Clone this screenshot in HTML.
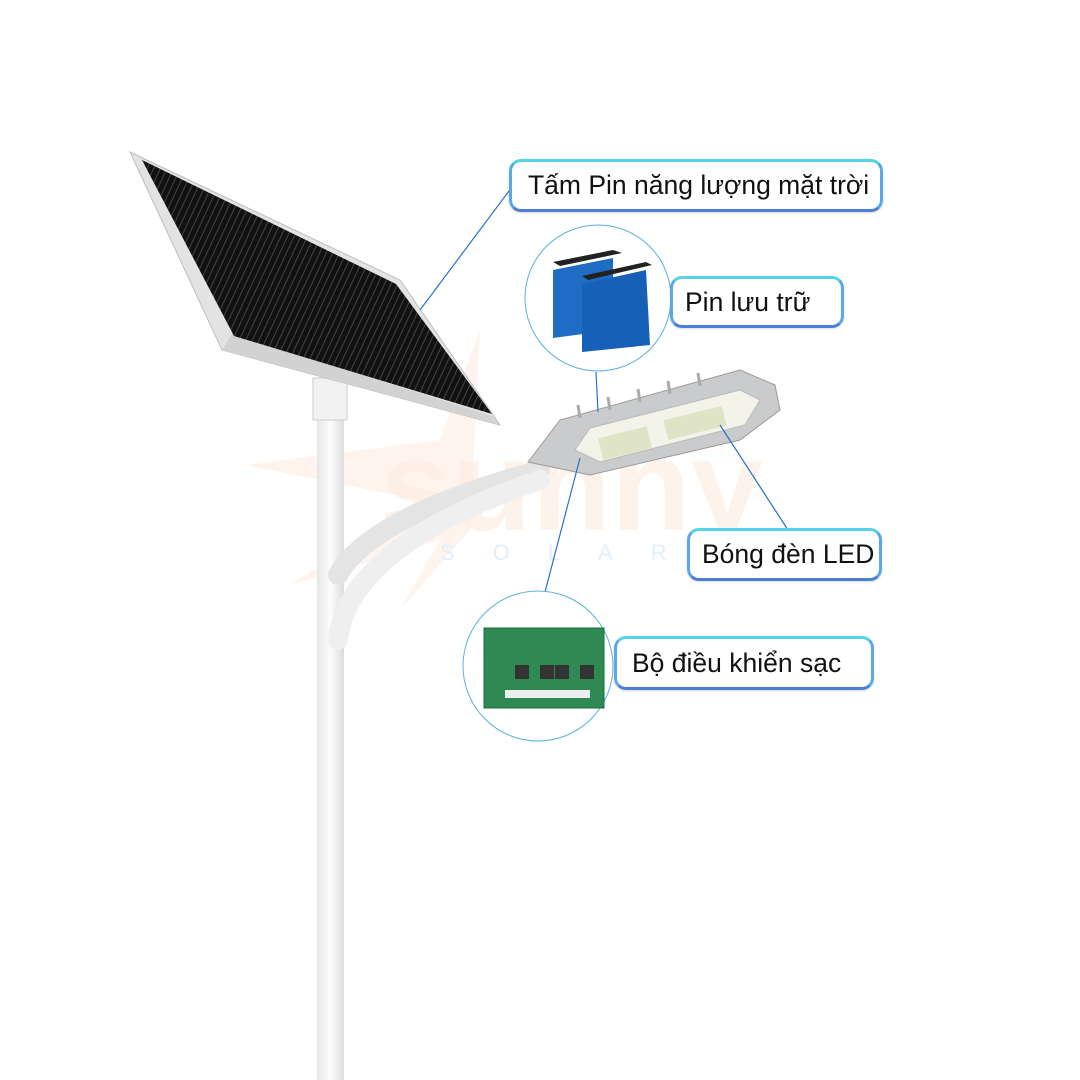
<!DOCTYPE html>
<html><head><meta charset="utf-8"><style>
html,body{margin:0;padding:0;background:#fff;}
body{width:1080px;height:1080px;position:relative;overflow:hidden;font-family:"Liberation Sans",sans-serif;}
.lbl{position:absolute;box-sizing:border-box;border:3px solid #5aa8e6;border-top-color:#55d3e6;border-bottom-color:#4a7fd8;border-radius:12px;background:#fff;font-size:26.5px;color:#111;line-height:1;display:flex;align-items:center;padding-left:16px;box-shadow:0 1px 2px rgba(0,0,0,.15);white-space:nowrap;}
</style></head><body>
<svg width="1080" height="1080" style="position:absolute;left:0;top:0">
<defs>
<linearGradient id="pole" x1="0" x2="1"><stop offset="0" stop-color="#e6e6e6"/><stop offset=".5" stop-color="#fdfdfd"/><stop offset="1" stop-color="#dcdcdc"/></linearGradient>
<pattern id="cells" width="6" height="6" patternUnits="userSpaceOnUse" patternTransform="rotate(25)"><rect width="6" height="6" fill="#111"/><rect width="1" height="6" fill="#444"/></pattern>
</defs>
<!-- watermark -->
<polygon points="480,330 440,440 245,465 420,500 290,585 440,540 400,610 470,530" fill="#fdeadb" opacity=".5"/>
<text x="380" y="530" font-family="Liberation Sans" font-size="130" font-weight="bold" fill="#fdeee2" opacity=".7">sunny</text>
<text x="440" y="560" font-family="Liberation Sans" font-size="22" fill="#e0f0fa" letter-spacing="38">SOLAR</text>
<!-- pole -->
<rect x="317" y="380" width="27" height="700" fill="url(#pole)"/>
<rect x="313" y="378" width="34" height="42" fill="#f2f2f2" stroke="#ccc"/>
<!-- arms -->
<path d="M338,575 C360,535 430,500 540,470" stroke="#e4e4e4" stroke-width="20" fill="none" stroke-linecap="round"/>
<path d="M338,640 C345,575 420,520 540,480" stroke="#efefef" stroke-width="20" fill="none" stroke-linecap="round"/>
<!-- lamp head -->
<path d="M528,462 L560,420 L740,370 L775,385 L780,410 L740,440 L590,475 Z" fill="#c9cbcc" stroke="#9a9a9a"/>
<g stroke="#aaa" stroke-width="3"><line x1="580" y1="418" x2="578" y2="405"/><line x1="610" y1="410" x2="608" y2="397"/><line x1="640" y1="402" x2="638" y2="389"/><line x1="670" y1="394" x2="668" y2="381"/><line x1="700" y1="386" x2="698" y2="373"/></g>
<path d="M575,450 L590,428 L740,390 L760,400 L745,425 L600,462 Z" fill="#f3f3ea" stroke="#bbb"/>
<g fill="#dfe4c6"><rect x="600" y="432" width="50" height="22" transform="rotate(-14 625 443)"/><rect x="665" y="413" width="60" height="20" transform="rotate(-14 695 423)"/></g>
<!-- panel -->
<polygon points="130,152 400,280 500,425 222,350" fill="#e3e3e3" stroke="#bdbdbd"/>
<polygon points="232,334 492,416 500,425 222,350" fill="#d2d2d2"/>
<polygon points="142,160 396,284 492,414 234,336" fill="url(#cells)"/>
<!-- connectors -->
<g stroke="#2b6fcf" stroke-width="1.2" fill="none">
<line x1="420" y1="310" x2="512" y2="187"/>
<line x1="596" y1="372" x2="598" y2="412"/>
<line x1="720" y1="425" x2="788" y2="530"/>
<line x1="580" y1="458" x2="545" y2="592"/>
</g>
<!-- circles -->
<circle cx="598" cy="298" r="73" fill="#fff" stroke="#5ab0e0" stroke-width="1"/>
<circle cx="538" cy="666" r="75" fill="#fff" stroke="#5ab0e0" stroke-width="1"/>
<!-- batteries -->
<polygon points="553,270 613,258 613,330 553,338" fill="#1f6cc4"/>
<polygon points="553,262 613,250 622,253 560,266" fill="#222"/>
<polygon points="582,284 646,270 650,345 582,352" fill="#1660b8"/>
<polygon points="582,276 646,262 652,265 588,280" fill="#222"/>
<!-- controller -->
<rect x="484" y="628" width="120" height="80" fill="#2e8a52" stroke="#1e6a3e"/>
<g fill="#333"><rect x="515" y="665" width="14" height="14"/><rect x="540" y="665" width="14" height="14"/><rect x="555" y="665" width="14" height="14"/><rect x="580" y="665" width="14" height="14"/></g>
<rect x="505" y="690" width="85" height="8" fill="#eee"/>
</svg>
<div class="lbl" style="left:509px;top:159px;width:374px;height:53px;">Tấm Pin năng lượng mặt trời</div>
<div class="lbl" style="left:670px;top:276px;width:174px;height:52px;padding-left:12px;">Pin lưu trữ</div>
<div class="lbl" style="left:687px;top:528px;width:195px;height:53px;padding-left:12px;">Bóng đèn LED</div>
<div class="lbl" style="left:614px;top:636px;width:260px;height:54px;padding-left:15px;">Bộ điều khiển sạc</div>
</body></html>
